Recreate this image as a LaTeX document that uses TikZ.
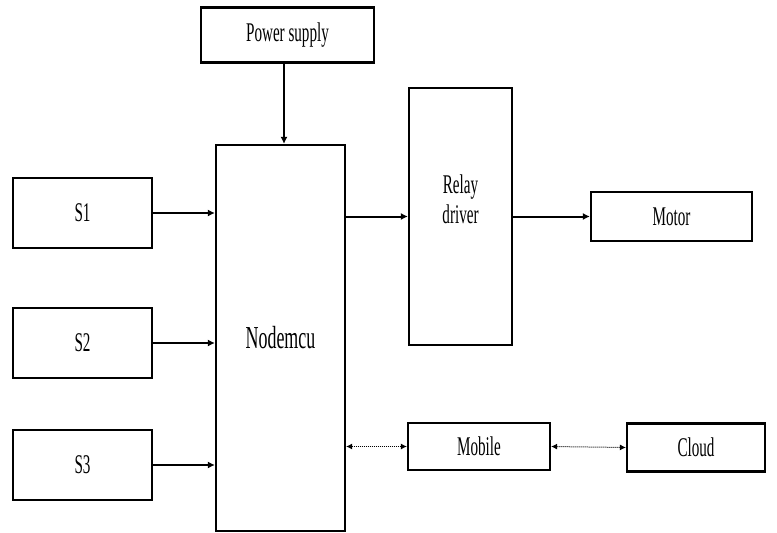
\documentclass[tikz,border=0pt]{standalone}
\usepackage{fontspec}
\setmainfont[FakeStretch=0.56]{Liberation Serif}
\usetikzlibrary{arrows.meta}

\tikzset{
  block/.style = {draw, line width=2.2pt, fill=white, inner sep=0pt,
                  font=\fontsize{27}{30}\selectfont, align=center},
  link/.style  = {line width=2pt, -{Latex[length=7pt,width=7pt]}},
  dotlink/.style = {line width=1pt, densely dotted,
                    {Latex[length=6pt,width=6pt]}-{Latex[length=6pt,width=6pt]}}
}

\begin{document}
\begin{tikzpicture}[x=1pt, y=-1pt]
  \useasboundingbox (0,0) rectangle (777,533);
  % blocks, placed at pixel coordinates of the layout
  \node[block, minimum width=173pt, minimum height=55pt]  (power)   at (287.5,35)  {Power supply};
  \node[block, minimum width=129pt, minimum height=386pt,
        font=\fontsize{32}{34}\selectfont]               (nodemcu) at (280.5,338) {Nodemcu};
  \foreach \name/\ypos in {S1/213, S2/343, S3/465} {
    \node[block, minimum width=139pt, minimum height=70pt] (\name) at (82.5,\ypos) {\name};
  }
  \node[block, minimum width=103pt, minimum height=257pt,
        label={[font=\fontsize{27}{30}\selectfont, align=center, yshift=17pt]center:Relay\\driver}]
        (relay)  at (460.5,216.5) {};
  \node[block, minimum width=161pt, minimum height=49pt]  (motor)  at (671.5,216.5) {Motor};
  \node[block, minimum width=142pt, minimum height=47pt]  (mobile) at (479,446.5)   {Mobile};
  \node[block, minimum width=138pt, minimum height=48pt]  (cloud)  at (696,447.5)   {Cloud};
  % connectors
  \draw[link, line width=1.4pt] (power.south -| 284,0) -- (nodemcu.north -| 284,0);
  \foreach \name in {S1, S2, S3} {
    \draw[link] (\name.east) -- (\name.east -| nodemcu.west);
  }
  \draw[link] (nodemcu.east |- relay) -- (relay.west);
  \draw[link] (relay.east) -- (motor.west);
  \draw[dotlink] (nodemcu.east |- mobile) -- (mobile.west);
  \draw[dotlink] (mobile.east) -- (cloud.west);
\end{tikzpicture}
\end{document}
